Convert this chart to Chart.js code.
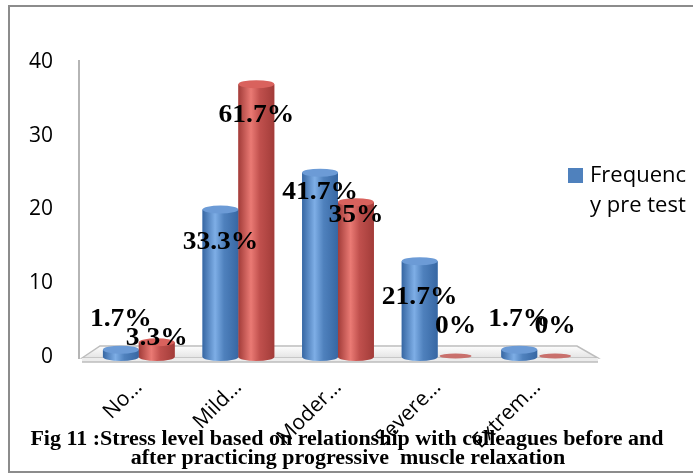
<!DOCTYPE html>
<html>
<head>
<meta charset="utf-8">
<script src="https://cdn.jsdelivr.net/npm/chart.js@4.4.1/dist/chart.umd.min.js"></script>
<style>
  html, body { margin: 0; padding: 0; background: #fff; }
  #wrap { position: relative; width: 693px; height: 475px; }
</style>
</head>
<body>
<div id="wrap"><canvas id="myChart" width="693" height="475"></canvas></div>
<script>
var categories = ["No…", "Mild…", "Moder…", "Severe…", "Extrem…"];
var preTest = [1, 20, 25, 13, 1];
var postTest = [2, 37, 21, 0, 0];
var seriesNames = ["Frequency pre test", "Frequency post test"];
var yTicks = [0, 10, 20, 30, 40];
var totalCount = 60;
var captionLines = [
  "Fig 11 :Stress level based on relationship with colleagues before and",
  "after practicing progressive  muscle relaxation"
];

// label nudges (px from bar top), one row per series
var labelDy = [
  [-30, 33, 20, 36, -30],
  [-4, 31, 13, -30, -30]
];

var palette = [
  { body: "#4f81bd", edge: "#3767a3", light: "#7eaee6", cap: "#6c9bd6", flat: "#5a86c0" },
  { body: "#c0504d", edge: "#a23c39", light: "#ea7a74", cap: "#d9625d", flat: "#c9706c" }
];

var serif = "'Liberation Serif', 'Times New Roman', serif";

function pct(v) {
  var p = Math.round(v / totalCount * 1000) / 10;
  return p + "%";
}

// serif text comes out a little wide
function wideText(ctx, text, x, y) {
  ctx.save();
  ctx.translate(x, y);
  ctx.scale(1.1, 1);
  ctx.fillText(text, 0, 0);
  ctx.restore();
}

var frame = {
  id: "frame",
  beforeDraw: function(chart) {
    var ctx = chart.ctx;
    ctx.save();
    ctx.strokeStyle = "#8c8c8c";
    ctx.lineWidth = 2;
    ctx.strokeRect(9, 6, 700, 466);
    ctx.restore();
  }
};

var floor = {
  id: "floor",
  beforeDatasetsDraw: function(chart) {
    var ctx = chart.ctx, a = chart.chartArea, y = chart.scales.y;
    var base = y.getPixelForValue(0);
    var topY = y.getPixelForValue(yTicks[yTicks.length - 1]);
    ctx.save();
    // floor top face
    var g = ctx.createLinearGradient(0, base - 12, 0, base + 1);
    g.addColorStop(0, "#ffffff");
    g.addColorStop(1, "#e4e4e4");
    ctx.fillStyle = g;
    ctx.strokeStyle = "#bdbdbd";
    ctx.lineWidth = 1.5;
    ctx.beginPath();
    ctx.moveTo(a.left - 7, base + 1);
    ctx.lineTo(a.left + 11, base - 11);
    ctx.lineTo(a.right - 10, base - 11);
    ctx.lineTo(a.right + 11, base + 1);
    ctx.closePath();
    ctx.fill();
    ctx.stroke();
    // front slab
    ctx.fillStyle = "#ececec";
    ctx.fillRect(a.left - 7, base + 1, a.right - a.left + 18, 4);
    ctx.beginPath();
    ctx.moveTo(a.left - 7, base + 5);
    ctx.lineTo(a.right + 11, base + 5);
    ctx.stroke();
    // vertical axis line
    ctx.strokeStyle = "#b5b5b5";
    ctx.lineWidth = 2;
    ctx.beginPath();
    ctx.moveTo(a.left - 10, topY - 2);
    ctx.lineTo(a.left - 10, base + 2);
    ctx.stroke();
    ctx.restore();
  }
};

// shade each bar as a cylinder and write its percentage
var cylinders = {
  id: "cylinders",
  afterDatasetsDraw: function(chart) {
    var ctx = chart.ctx;
    ctx.save();
    chart.data.datasets.forEach(function(ds, di) {
      var c = palette[di];
      chart.getDatasetMeta(di).data.forEach(function(bar) {
        var x = bar.x, top = bar.y, base = bar.base, w = bar.width;
        var l = x - w / 2, r = x + w / 2, ry = 4;
        if (base - top < 1) {
          // empty bar: just a flat disc on the floor
          ctx.beginPath();
          ctx.ellipse(x, base - 1, w / 2 - 2, 2.5, 0, 0, Math.PI * 2);
          ctx.fillStyle = c.flat;
          ctx.fill();
          return;
        }
        var g = ctx.createLinearGradient(l, 0, r, 0);
        g.addColorStop(0, c.edge);
        g.addColorStop(0.35, c.light);
        g.addColorStop(0.6, c.body);
        g.addColorStop(1, c.edge);
        ctx.fillStyle = g;
        ctx.beginPath();
        ctx.moveTo(l, top);
        ctx.lineTo(l, base);
        ctx.ellipse(x, base, w / 2, ry, 0, Math.PI, 0, true);
        ctx.lineTo(r, top);
        ctx.closePath();
        ctx.fill();
        ctx.beginPath();
        ctx.ellipse(x, top, w / 2, ry, 0, 0, Math.PI * 2);
        ctx.fillStyle = c.cap;
        ctx.fill();
      });
    });
    ctx.fillStyle = "#000";
    ctx.font = "bold 25px " + serif;
    ctx.textAlign = "center";
    ctx.textBaseline = "middle";
    chart.data.datasets.forEach(function(ds, di) {
      chart.getDatasetMeta(di).data.forEach(function(bar, i) {
        wideText(ctx, pct(ds.data[i]), bar.x, bar.y + labelDy[di][i]);
      });
    });
    ctx.restore();
  }
};

var overlay = {
  id: "overlay",
  afterDraw: function(chart) {
    var ctx = chart.ctx;
    ctx.save();
    // legend
    ctx.fillStyle = palette[0].body;
    ctx.fillRect(568, 168, 15, 15);
    ctx.fillStyle = "#000";
    ctx.font = "22px 'Open Sans', sans-serif";
    ctx.textAlign = "left";
    ctx.textBaseline = "middle";
    ctx.fillText(seriesNames[0].slice(0, 8), 590, 176);
    ctx.fillText(seriesNames[0].slice(8), 590, 206);
    // caption
    ctx.font = "bold 20px " + serif;
    ctx.textAlign = "center";
    ctx.textBaseline = "alphabetic";
    wideText(ctx, captionLines[0], 347, 445);
    wideText(ctx, captionLines[1], 348, 464);
    ctx.restore();
  }
};

var ctx = document.getElementById("myChart");

var chart = new Chart(ctx, {
  type: "bar",
  data: {
    labels: categories,
    datasets: [
      { label: seriesNames[0], data: preTest, backgroundColor: palette[0].body, borderWidth: 0 },
      { label: seriesNames[1], data: postTest, backgroundColor: palette[1].body, borderWidth: 0 }
    ]
  },
  options: {
    responsive: false,
    animation: false,
    layout: { padding: { top: 62, right: 106, bottom: 0, left: 0 } },
    categoryPercentage: 0.72,
    barPercentage: 1.0,
    plugins: {
      legend: { display: false },
      tooltip: { enabled: false }
    },
    scales: {
      x: {
        grid: { display: false, drawTicks: false },
        border: { display: false },
        ticks: {
          color: "#000",
          font: { family: "'Open Sans', sans-serif", size: 21 },
          minRotation: 45,
          maxRotation: 45,
          padding: 18
        },
        afterFit: function(scale) { scale.height = 118; }
      },
      y: {
        min: 0,
        max: 40,
        grid: { display: false, drawTicks: false },
        border: { display: false },
        ticks: {
          stepSize: 10,
          color: "#000",
          padding: 36,
          font: { family: "'Open Sans', sans-serif", size: 21 }
        },
        afterFit: function(scale) { scale.width = 89; }
      }
    }
  },
  plugins: [frame, floor, cylinders, overlay]
});
</script>
</body>
</html>
